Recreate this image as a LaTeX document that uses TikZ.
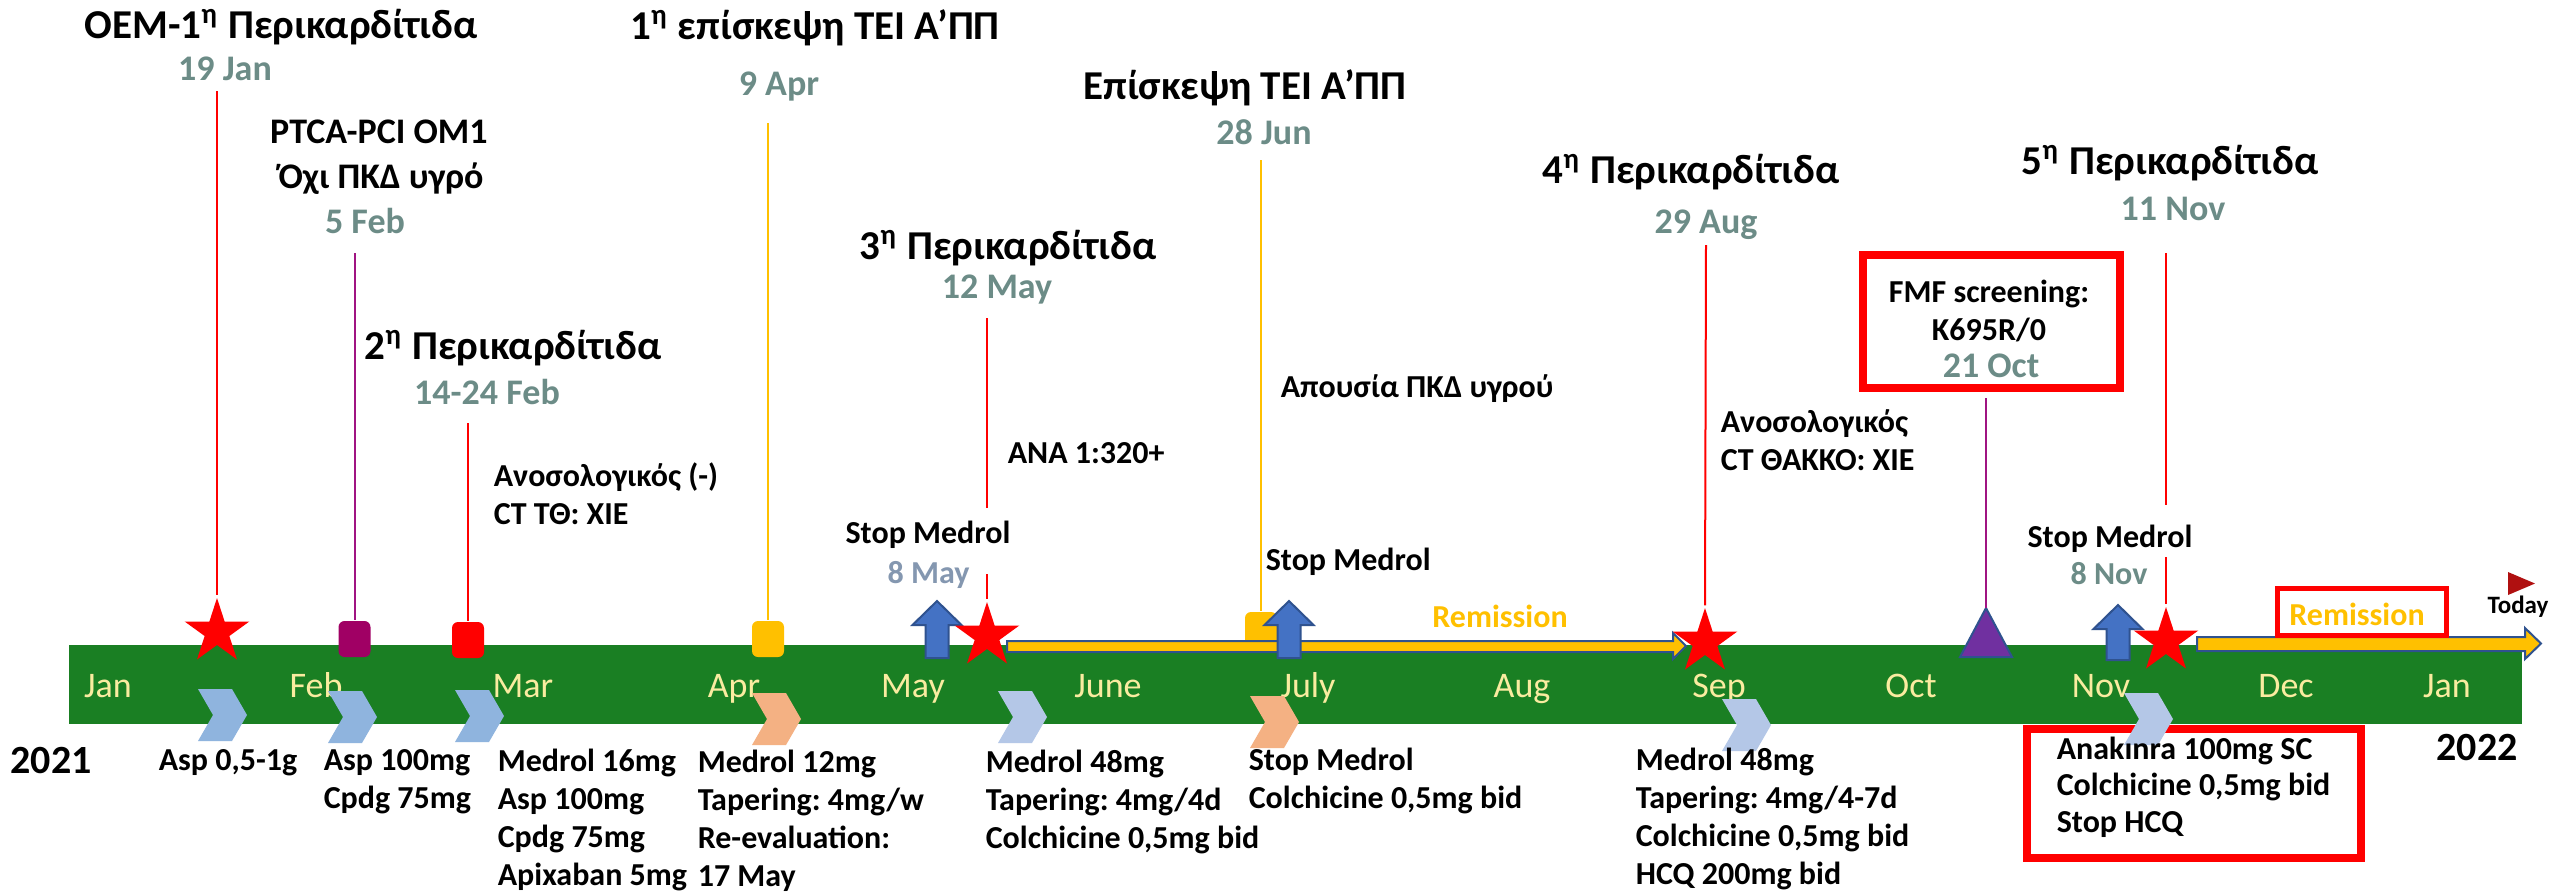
\documentclass[tikz,border=0pt]{standalone}
\usepackage{fontspec}
\setmainfont{Carlito}
\usetikzlibrary{shapes.geometric}
\frenchspacing
\definecolor{greenC}{RGB}{26,127,35}
\definecolor{monthc}{RGB}{250,236,160}
\definecolor{datec}{RGB}{108,140,135}
\definecolor{maydate}{RGB}{132,151,176}
\definecolor{yel}{RGB}{255,192,0}
\definecolor{purpS}{RGB}{160,0,100}
\definecolor{purpL}{RGB}{160,20,130}
\definecolor{triC}{RGB}{112,48,160}
\definecolor{blueF}{RGB}{68,114,196}
\definecolor{blueD}{RGB}{47,82,143}
\definecolor{chevA}{RGB}{143,180,222}
\definecolor{chevB}{RGB}{180,199,231}
\definecolor{chevO}{RGB}{244,177,131}
\definecolor{todayC}{RGB}{176,16,16}
\newcommand\mylines[1]{\begin{tabular}[t]{@{}l@{}}#1\end{tabular}}
\newcommand\bluearrow[3]{%
  \filldraw[fill=blueF, draw=blueD, line width=0.5pt] (#1,#2) -- (#1+24.5,#2+24) -- (#1+11.5,#2+24) -- (#1+11.5,#3) -- (#1-11.5,#3) -- (#1-11.5,#2+24) -- (#1-24.5,#2+24) -- cycle;}
\newcommand\chev[3]{%
  \fill[#1] (#2,#3) -- ++(34,0) -- ++(15,26) -- ++(-15,26) -- ++(-34,0) -- ++(15,-26) -- cycle;}
\begin{document}
\begin{tikzpicture}[x=0.25pt,y=-0.25pt,
  ttl/.style={font=\fontsize{10.25pt}{12pt}\selectfont\bfseries, inner sep=0pt, anchor=base},
  sub/.style={font=\fontsize{9pt}{11pt}\selectfont\bfseries, inner sep=0pt, anchor=base},
  dt/.style={sub, text=datec},
  bd/.style={font=\fontsize{8pt}{9.5pt}\selectfont\bfseries, inner sep=0pt, anchor=base west},
  bdc/.style={bd, anchor=base},
  mon/.style={font=\fontsize{9pt}{11pt}\selectfont, text=monthc, inner sep=0pt, anchor=base},
  yr/.style={font=\fontsize{10pt}{12pt}\selectfont\bfseries, inner sep=0pt, anchor=base},
  rem/.style={bdc, text=yel},
  rl/.style={draw=red, line width=0.5pt},
  yl/.style={draw=yel, line width=0.5pt},
  pl/.style={draw=purpL, line width=0.5pt},
  sq/.style={rectangle, rounded corners=1.5pt, minimum width=8pt, minimum height=9pt, inner sep=0pt},
  st/.style={star, star points=5, star point ratio=2.618, fill=red, minimum size=17pt, inner sep=0pt},
  rbox/.style={draw=red, rectangle, inner sep=0pt},
]
\fill[white] (0,0) rectangle (2552,893);
\useasboundingbox (0,0) rectangle (2552,893);
% timeline bar
\fill[greenC] (69,645) rectangle (2522,724);
% months
\node[mon] (mJan) at (108,697) {Jan};
\node[mon] (mFeb) at (316,697) {Feb};
\node[mon] (mMar) at (523,697) {Mar};
\node[mon] (mApr) at (734,697) {Apr};
\node[mon] (mMay) at (913,697) {May};
\node[mon] (mJun) at (1108,697) {June};
\node[mon] (mJul) at (1308,697) {July};
\node[mon] (mAug) at (1522,697) {Aug};
\node[mon] (mSep) at (1719,697) {Sep};
\node[mon] (mOct) at (1911,697) {Oct};
\node[mon] (mNov) at (2101,697) {Nov};
\node[mon] (mDec) at (2286,697) {Dec};
\node[mon] (mJan2) at (2447,697) {Jan};
% markers
\node[sq, fill=purpS] (q2) at (354.5,639) {};
\node[sq, fill=red] (q3) at (468,640) {};
\node[sq, fill=yel] (q4) at (768,639) {};
\node[sq, fill=yel] (q6) at (1261,630) {};
\coordinate (tri) at (1986,608);
\filldraw[fill=triC, draw=blueD, line width=0.5pt] (tri) -- (2012,657) -- (1960,657) -- cycle;
% remission arrows
\filldraw[fill=yel, draw=blueD, line width=0.5pt] (1007,641) -- (1673,641) -- (1673,633) -- (1686,646) -- (1673,659) -- (1673,652) -- (1007,652) -- cycle;
\filldraw[fill=yel, draw=blueD, line width=0.5pt] (2197,637) -- (2525,637) -- (2525,628) -- (2541,643.5) -- (2525,659) -- (2525,651) -- (2197,651) -- cycle;
% blue arrows
\bluearrow{937}{601}{658}
\bluearrow{1289}{601}{658}
\bluearrow{2118}{605}{660}
% stars
\node[st] (s1) at (217,632) {};
\node[st] (s3) at (987,636) {};
\node[st] (s4) at (1705,642) {};
\node[st] (s5) at (2166,641) {};
% vertical connectors
\coordinate (t1) at (217,91);
\coordinate (t2) at (354.5,253);
\coordinate (t3) at (468,423);
\coordinate (t4) at (768,123);
\coordinate (t5) at (987,318);
\coordinate (c5a) at (987,508);
\coordinate (c5b) at (987,574);
\coordinate (t6) at (1261,160);
\coordinate (t7) at (1706,245);
\coordinate (t8) at (1986,398);
\coordinate (t9) at (2166,253);
\coordinate (c9a) at (2166,505);
\coordinate (c9b) at (2166,557);
\draw[rl] (t1) -- (s1.north);
\draw[pl] (t2) -- (q2.north);
\draw[rl] (t3) -- (q3.north);
\draw[yl] (t4) -- (q4.north);
\draw[rl] (t5) -- (c5a);
\draw[rl] (c5b) -- (s3.north);
\draw[yl] (t6) -- (q6.north);
\draw[rl] (t7) -- (s4.north);
\draw[pl] (t8) -- (tri);
\draw[rl] (t9) -- (c9a);
\draw[rl] (c9b) -- (s5.north);
% boxes
\node[rbox, line width=2pt, minimum width=64.25pt, minimum height=33.25pt] (fmfbox) at (1991.5,321.5) {};
\node[rbox, line width=2pt, minimum width=83.5pt, minimum height=32.25pt, fill=white] (anabox) at (2194,793.5) {};
\node[rbox, line width=1.25pt, minimum width=42.25pt, minimum height=11.75pt] (rembox) at (2362,612) {};
% chevrons
\chev{chevA}{198}{689}
\chev{chevA}{328}{691}
\chev{chevA}{455}{690}
\chev{chevO}{752}{693}
\chev{chevB}{998}{691}
\chev{chevO}{1250}{696}
\chev{chevB}{1722}{699}
\chev{chevB}{2124}{693}
% today marker
\fill[todayC] (2508,572) -- (2535,583.5) -- (2508,595) -- cycle;
\node[bdc, font=\fontsize{6.25pt}{7.5pt}\selectfont\bfseries] (today) at (2518,613) {Today};
% top texts
\node[ttl] (n1) at (281,38) {ΟΕΜ-1\textsuperscript{η} Περικαρδίτιδα};
\node[dt] (d1) at (225,80) {19 Jan};
\node[sub] (n2a) at (379,143) {PTCA-PCI OM1};
\node[sub] (n2b) at (381,188) {Όχι ΠΚΔ υγρό};
\node[dt] (d2) at (365,233) {5 Feb};
\node[ttl] (n3) at (513,359) {2\textsuperscript{η} Περικαρδίτιδα};
\node[dt] (d3) at (487,404) {14-24 Feb};
\node[bd] (n3b) at (493,486) {\mylines{Ανοσολογικός (-)\\CT ΤΘ: ΧΙΕ}};
\node[ttl] (n4) at (815,39) {1\textsuperscript{η} επίσκεψη ΤΕΙ Α’ΠΠ};
\node[dt] (d4) at (779,95) {9 Apr};
\node[ttl] (n5) at (1008,259) {3\textsuperscript{η} Περικαρδίτιδα};
\node[dt] (d5) at (997,298) {12 May};
\node[bd] (ana) at (1007,463) {ANA 1:320+};
\node[bdc] (sm1) at (928,543) {Stop Medrol};
\node[bdc, text=maydate] (d8may) at (928.5,583) {8 May};
\node[ttl] (n6) at (1245,99) {Επίσκεψη ΤΕΙ Α’ΠΠ};
\node[dt] (d6) at (1264,144) {28 Jun};
\node[bd] (apou) at (1280,397) {Απουσία ΠΚΔ υγρού};
\node[bd] (sm2) at (1265,570) {Stop Medrol};
\node[rem] (rem1) at (1500,627) {Remission};
\node[ttl] (n7) at (1691,183) {4\textsuperscript{η} Περικαρδίτιδα};
\node[dt] (d7) at (1706,233) {29 Aug};
\node[bd] (ano2) at (1720,432) {\mylines{Ανοσολογικός\\CT ΘΑΚΚΟ: ΧΙΕ}};
\node[bdc] (fmf1) at (1989,302) {FMF screening:};
\node[bdc] (fmf2) at (1989,340) {K695R/0};
\node[dt] (fmf3) at (1991,377) {21 Oct};
\node[ttl] (n8) at (2170,174) {5\textsuperscript{η} Περικαρδίτιδα};
\node[dt] (d8) at (2173,220) {11 Nov};
\node[bdc] (sm3) at (2110,547) {Stop Medrol};
\node[bdc, text=datec] (d8nov) at (2109,584) {8 Nov};
\node[rem] (rem2) at (2357,625) {Remission};
% bottom texts
\node[yr] (y2021) at (51,773) {2021};
\node[bdc] (b1) at (228,770) {Asp 0,5-1g};
\node[bd] (b2) at (323,770) {\mylines{Asp 100mg\\Cpdg 75mg}};
\node[bd] (b3) at (497,771) {\mylines{Medrol 16mg\\Asp 100mg\\Cpdg 75mg\\Apixaban 5mg}};
\node[bd] (b4) at (697,772) {\mylines{Medrol 12mg\\Tapering: 4mg/w\\Re-evaluation:\\17 May}};
\node[bd] (b5) at (985,772) {\mylines{Medrol 48mg\\Tapering: 4mg/4d\\Colchicine 0,5mg bid}};
\node[bd] (b6) at (1248,770) {\mylines{Stop Medrol\\Colchicine 0,5mg bid}};
\node[bd] (b7) at (1635,770) {\mylines{Medrol 48mg\\Tapering: 4mg/4-7d\\Colchicine 0,5mg bid\\HCQ 200mg bid}};
\node[bd, font=\fontsize{8pt}{9.125pt}\selectfont\bfseries] (b8) at (2056,759) {\mylines{Anakınra 100mg SC\\Colchicine 0,5mg bid\\Stop HCQ}};
\node[yr] (y2022) at (2477,760) {2022};
\end{tikzpicture}
\end{document}
